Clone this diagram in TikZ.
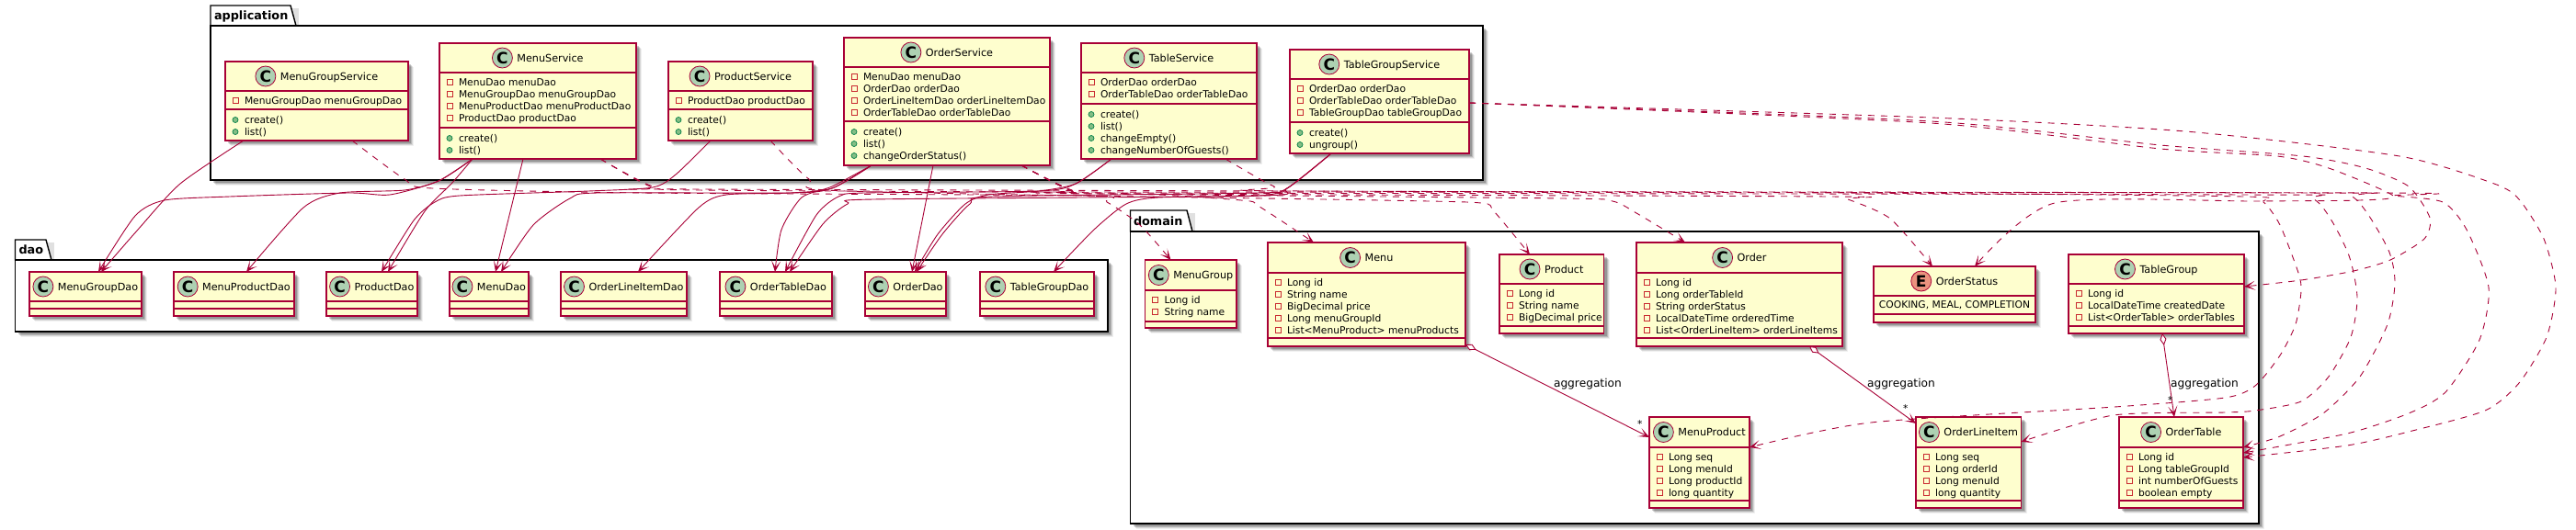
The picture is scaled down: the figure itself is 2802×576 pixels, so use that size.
\documentclass[tikz,border=0pt]{standalone}
\usepackage{fontspec}
\setmainfont{DejaVu Sans}
\usetikzlibrary{arrows.meta,calc}
\definecolor{umlline}{HTML}{A80036}
\definecolor{umlfill}{HTML}{FEFECE}
\definecolor{umlcirc}{HTML}{ADD1B2}
\definecolor{umlenum}{HTML}{EB937F}
\definecolor{umlpriv}{HTML}{C82930}
\definecolor{umlpubf}{HTML}{84BE84}
\definecolor{umlpubl}{HTML}{038048}
\newcommand\titlefont{\fontsize{11.2}{13}\selectfont}
\newcommand\memfont{\fontsize{10.7}{13}\selectfont}
\newcommand\labfont{\fontsize{12.2}{14}\selectfont}
\newcommand\pkgfont{\fontsize{12.8}{15}\selectfont\bfseries}
\tikzset{
 classbox/.style={draw=umlline,fill=umlfill,line width=1.2pt,inner sep=0,outer sep=0},
 divider/.style={draw=umlline,line width=1.2pt},
 pkgbody/.style={draw=black,fill=white,line width=1.4pt,inner sep=0,outer sep=0},
 txt/.style={inner sep=0,outer sep=0,text=black,anchor=base west},
 privmark/.style={draw=umlpriv,line width=.8pt},
 pubmark/.style={draw=umlpubl,fill=umlpubf,line width=.7pt},
 solidconn/.style={draw=umlline,line width=.9pt,-{Stealth[length=12pt,width=10pt,inset=7pt]}},
 dashconn/.style={solidconn,dash pattern=on 7pt off 7pt},
 aggconn/.style={draw=umlline,line width=.9pt,{Diamond[fill=white,length=13pt,width=7pt]}-{Stealth[length=12pt,width=10pt,inset=7pt]}},
 spline/.style={smooth,tension=.42},
}
\newcommand\softshadow[4]{%
 \foreach \s/\o in {6/.06,5/.10,4/.14,3/.18}{%
  \fill[black,opacity=\o] (#1+\s,#2+\s) rectangle (#3+\s,#4+\s);}}
\newcommand\cls[9]{% id,title,letter,x1,y1,x2,y2,hy,ay
 \softshadow{#4}{#5}{#6}{#7}
 \pgfmathsetmacro\bw{#6-#4}\pgfmathsetmacro\bh{#7-#5}
 \pgfmathsetmacro\bcx{(#4+#6)/2}\pgfmathsetmacro\bcy{(#5+#7)/2}
 \node[classbox,minimum width=\bw pt,minimum height=\bh pt] (#1) at (\bcx,\bcy) {};
 \draw[divider] (#4,#8) -- (#6,#8);
 \draw[divider] (#4,#9) -- (#6,#9);
 \pgfmathsetmacro\tx{\bcx+13.5}\pgfmathsetmacro\ty{(#5+#8)/2+4}
 \node[inner sep=0,outer sep=0,text=black,anchor=base] (#1-title) at (\tx,\ty) {\titlefont #2};
 \def\circcol{umlcirc}\if#3E\def\circcol{umlenum}\fi
 \path (#1-title.base west) ++(-16,-4) coordinate (#1-cc);
 \fill[\circcol,draw=umlline,line width=.8pt] (#1-cc) circle[radius=11pt];
 \node[inner sep=0,outer sep=0,text=black] (#1-letter) at (#1-cc) {\fontsize{17}{17}\selectfont\bfseries #3};
 \xdef\curL{#4}\xdef\curH{#8}\xdef\curA{#9}
}
\newcommand\atts[2]{%
 \foreach \t [count=\i] in {#2}{%
  \pgfmathsetmacro\ly{\curH+10.5+13*(\i-1)}
  \draw[privmark] (\curL+8,\ly-3) rectangle (\curL+14,\ly+3);
  \pgfmathsetmacro\lx{\curL+21}\pgfmathsetmacro\lb{\ly+4}
  \node[txt] (#1-a\i) at (\lx,\lb) {\memfont \t};
 }}
\newcommand\meths[2]{%
 \foreach \t [count=\i] in {#2}{%
  \pgfmathsetmacro\ly{\curA+11.5+13*(\i-1)}
  \draw[pubmark] (\curL+11,\ly) circle[radius=3pt];
  \pgfmathsetmacro\lx{\curL+21}\pgfmathsetmacro\lb{\ly+4}
  \node[txt] (#1-m\i) at (\lx,\lb) {\memfont \t};
 }}
\newcommand\pkg[9]{% id,label,x1,tabtop,tabright,bodytop,x2,y2,labelx
 \softshadow{#3}{#6}{#7}{#8}
 \fill[black,opacity=.12] (#3+3,#4+3) -- (#5+3,#4+3) -- (#5+3,#6) -- (#3+3,#6) -- cycle;
 \draw[pkgbody] (#3,#6) -- (#3,#4) -- (#5-6,#4) -- (#5,#6) -- cycle;
 \pgfmathsetmacro\bw{#7-#3}\pgfmathsetmacro\bh{#8-#6}
 \pgfmathsetmacro\bcx{(#3+#7)/2}\pgfmathsetmacro\bcy{(#6+#8)/2}
 \node[pkgbody,minimum width=\bw pt,minimum height=\bh pt] (#1) at (\bcx,\bcy) {};
 \pgfmathsetmacro\ly{(#4+#6)/2+4.5}
 \node[txt] (#1-label) at (#9,\ly) {\pkgfont #2};
}
\begin{document}
\begin{tikzpicture}[x=1pt,y=-1pt]
\useasboundingbox (0,0) rectangle (2802,576);
\pkg{application}{application}{229}{6}{322}{28}{1613}{196}{233}
\pkg{dao}{dao}{16.5}{261}{56}{283}{1205}{361}{20.5}
\pkg{domain}{domain}{1229.5}{229}{1297}{252}{2457}{570}{1233}

\cls{MGS}{MenuGroupService}{C}{245}{67}{444}{153}{99}{119}
\atts{MGS}{MenuGroupDao menuGroupDao}
\meths{MGS}{create(),list()}
\cls{MS}{MenuService}{C}{478}{47}{692}{173}{79}{139}
\atts{MS}{MenuDao menuDao,MenuGroupDao menuGroupDao,MenuProductDao menuProductDao,ProductDao productDao}
\meths{MS}{create(),list()}
\cls{PS}{ProductService}{C}{727}{67}{884}{153}{99}{119}
\atts{PS}{ProductDao productDao}
\meths{PS}{create(),list()}
\cls{OS}{OrderService}{C}{918}{41}{1142}{180}{73}{132}
\atts{OS}{MenuDao menuDao,OrderDao orderDao,OrderLineItemDao orderLineItemDao,OrderTableDao orderTableDao}
\meths{OS}{create(),list(),changeOrderStatus()}
\cls{TS}{TableService}{C}{1176}{47}{1367}{173}{79}{113}
\atts{TS}{OrderDao orderDao,OrderTableDao orderTableDao}
\meths{TS}{create(),list(),changeEmpty(),changeNumberOfGuests()}
\cls{TGS}{TableGroupService}{C}{1403}{54}{1598}{167}{86}{133}
\atts{TGS}{OrderDao orderDao,OrderTableDao orderTableDao,TableGroupDao tableGroupDao}
\meths{TGS}{create(),ungroup()}

\cls{MGD}{MenuGroupDao}{C}{32}{296}{154}{344}{328}{336}
\cls{MPD}{MenuProductDao}{C}{189}{296}{320}{344}{328}{336}
\cls{PD}{ProductDao}{C}{355}{296}{454}{344}{328}{336}
\cls{MD}{MenuDao}{C}{489}{296}{575}{344}{328}{336}
\cls{OLD}{OrderLineItemDao}{C}{610}{296}{747}{344}{328}{336}
\cls{OTD}{OrderTableDao}{C}{783}{296}{905}{344}{328}{336}
\cls{OD}{OrderDao}{C}{941}{296}{1029}{344}{328}{336}
\cls{TGD}{TableGroupDao}{C}{1066}{296}{1190}{344}{328}{336}

\cls{MG}{MenuGroup}{C}{1245.5}{283}{1345}{357}{316}{350}
\atts{MG}{Long id,String name}
\cls{ME}{Menu}{C}{1379}{264}{1594}{377}{297}{368}
\atts{ME}{Long id,String name,BigDecimal price,Long menuGroupId,List<MenuProduct> menuProducts}
\cls{PR}{Product}{C}{1631}{277}{1744.5}{363}{309}{355}
\atts{PR}{Long id,String name,BigDecimal price}
\cls{OR}{Order}{C}{1780}{264}{2004}{377}{297}{368}
\atts{OR}{Long id,Long orderTableId,String orderStatus,LocalDateTime orderedTime,List<OrderLineItem> orderLineItems}
\cls{ST}{OrderStatus}{E}{2038}{290}{2214}{351}{322}{342}
\node[inner sep=0,outer sep=0,text=black] (ST-v) at (2126,332) {\memfont COOKING, MEAL, COMPLETION};
\cls{TG}{TableGroup}{C}{2250}{277}{2441}{363}{309}{355}
\atts{TG}{Long id,LocalDateTime createdDate,List<OrderTable> orderTables}
\cls{MP}{MenuProduct}{C}{1794}{454}{1903}{553}{487}{545}
\atts{MP}{Long seq,Long menuId,Long productId,long quantity}
\cls{OL}{OrderLineItem}{C}{2084}{454}{2198.5}{553}{487}{545}
\atts{OL}{Long seq,Long orderId,Long menuId,long quantity}
\cls{OT}{OrderTable}{C}{2305}{454}{2440}{553}{487}{545}
\atts{OT}{Long id,Long tableGroupId,int numberOfGuests,boolean empty}

% service -> dao
\draw[solidconn] plot[spline] coordinates {([xshift=20]MGS.south west) (196,200) (150,250) ([xshift=78]MGD.north west)};
\draw[solidconn] plot[spline] coordinates {([xshift=36]MS.south west) (477,197) (424,212) (379,210) (250,214) (179,218) (147,235) ([xshift=75]MGD.north west)};
\draw[solidconn] plot[spline] coordinates {([xshift=36]MS.south west) (477,197) (440,207) (370,210) (330,226) ([xshift=79]MPD.north west)};
\draw[solidconn] plot[spline] coordinates {([xshift=36]MS.south west) (491,200) (462,230) ([xshift=67]PD.north west)};
\draw[solidconn] plot[spline] coordinates {([xshift=46]PS.south west) (735,190) (710,204) (640,208) (500,213) (473,220) (450,240) ([xshift=60]PD.north west)};
\draw[solidconn] ([xshift=91]MS.south west) -- ([xshift=50]MD.north west);
\draw[solidconn] plot[spline] coordinates {([xshift=30]OS.south west) (905,205) (860,210) (650,210) (620,216) (580,245) ([xshift=56]MD.north west)};
\draw[solidconn] plot[spline] coordinates {([xshift=30]OS.south west) (905,205) (860,210) (790,212) (760,226) ([xshift=84]OLD.north west)};
\draw[solidconn] plot[spline] coordinates {([xshift=30]OS.south west) (905,203) (872,215) (850,250) ([xshift=60]OTD.north west)};
\draw[solidconn] plot[spline] coordinates {([xshift=33]TS.south west) (1170,200) (1130,208) (940,210) (912,214) (888,234) ([xshift=71]OTD.north west)};
\draw[solidconn] plot[spline] coordinates {([xshift=45]TGS.south west) (1400,205) (1370,213) (950,217) (922,222) (895,244) ([xshift=76]OTD.north west)};
\draw[solidconn] ([xshift=97]OS.south west) -- ([xshift=51]OD.north west);
\draw[solidconn] plot[spline] coordinates {([xshift=33]TS.south west) (1170,200) (1130,208) (1075,212) (1050,222) (1020,255) ([xshift=54]OD.north west)};
\draw[solidconn] plot[spline] coordinates {([xshift=45]TGS.south west) (1400,205) (1370,210) (1080,214) (1055,222) (1025,255) ([xshift=56]OD.north west)};
\draw[solidconn] plot[spline] coordinates {([xshift=45]TGS.south west) (1400,205) (1370,213) (1260,215) (1225,222) (1190,250) ([xshift=80]TGD.north west)};

% service -> domain
\draw[dashconn] plot[spline] coordinates {([xshift=138]MGS.south west) (440,195) (470,205) (700,210) (1180,213) (1204,220) (1240,245) ([xshift=28]MG.north west)};
\draw[dashconn] plot[spline] coordinates {([xshift=175]MS.south west) (710,203) (760,207) (1200,210) (1350,218) (1370,225) ([xshift=50]ME.north west)};
\draw[dashconn] plot[spline] coordinates {([xshift=175]MS.south west) (710,204) (760,206) (2000,210) (2440,214) (2462,220) (2480,245) (2500,297) (2503,317) (2497,353) (2480,387) (2453,420) (2420,433) (2300,443) (2035,460) ([yshift=-33]MP.north east)};
\draw[dashconn] plot[spline] coordinates {([xshift=111]PS.south west) (880,195) (920,208) (1500,218) (1611,221) (1625,230) ([xshift=33]PR.north west)};
\draw[dashconn] plot[spline] coordinates {([xshift=193]OS.south west) (1166,208) (1200,211) (1700,216) (1754,219) (1780,232) ([xshift=53]OR.north west)};
\draw[dashconn] plot[spline] coordinates {([xshift=193]OS.south west) (1166,208) (1200,210) (2440,212) (2517,217) (2553,273) (2564,323) (2557,367) (2533,410) (2503,437) (2453,447) (2420,449) (2299,452) ([yshift=-27]OL.north east)};
\draw[dashconn] plot[spline] coordinates {([xshift=193]OS.south west) (1166,208) (1200,211) (1990,214) (2010,217) (2056,238) ([xshift=64]ST.north west)};
\draw[dashconn] plot[spline] coordinates {([xshift=193]OS.south west) (1166,207) (1200,209) (2500,210) (2560,215) (2597,270) (2605,307) (2597,353) (2567,410) (2527,450) (2480,475) ([yshift=-33]OT.north east)};
\draw[dashconn] plot[spline] coordinates {([xshift=157]TS.south west) (1386,203) (1420,208) (2590,210) (2603,213) (2657,220) (2683,250) (2707,313) (2697,370) (2660,427) (2620,450) (2553,472) ([yshift=-39]OT.north east)};
\draw[dashconn] plot[spline] coordinates {([yshift=-58]TGS.north east) (2100,128) (2377,143) (2610,170) (2713,200) (2740,217) (2767,260) (2780,313) (2770,367) (2740,417) (2703,447) (2620,470) (2553,485) ([yshift=-44]OT.north east)};
\draw[dashconn] plot[spline] coordinates {([yshift=-58]TGS.north east) (2100,132) (2350,158) (2505,170) (2573,183) (2620,203) (2643,237) (2637,260) (2600,283) (2560,295) (2503,305) ([yshift=-35]TG.north east)};
\draw[dashconn] plot[spline] coordinates {([yshift=-58]TGS.north east) (2100,134) (2350,162) (2477,170) (2533,183) (2603,213) (2567,218) (2453,219) (2235,221) ([xshift=110]ST.north west)};

% aggregation
\draw[aggconn] ([yshift=2]ME.south east) -- ([yshift=-22]MP.north west);
\draw[aggconn] ([xshift=188]OR.south west) -- ([yshift=-7]OL.north west);
\draw[aggconn] ([xshift=102]TG.south west) -- ([xshift=60]OT.north west);
\node[txt] (lab1) at (1690,421) {\labfont aggregation};
\node[txt] (lab2) at (2031,421) {\labfont aggregation};
\node[txt] (lab3) at (2361,421) {\labfont aggregation};
\node[txt] (star1) at (1781,465) {\memfont *};
\node[txt] (star2) at (2070,448) {\memfont *};
\node[txt] (star3) at (2358,439) {\memfont *};
\end{tikzpicture}
\end{document}
